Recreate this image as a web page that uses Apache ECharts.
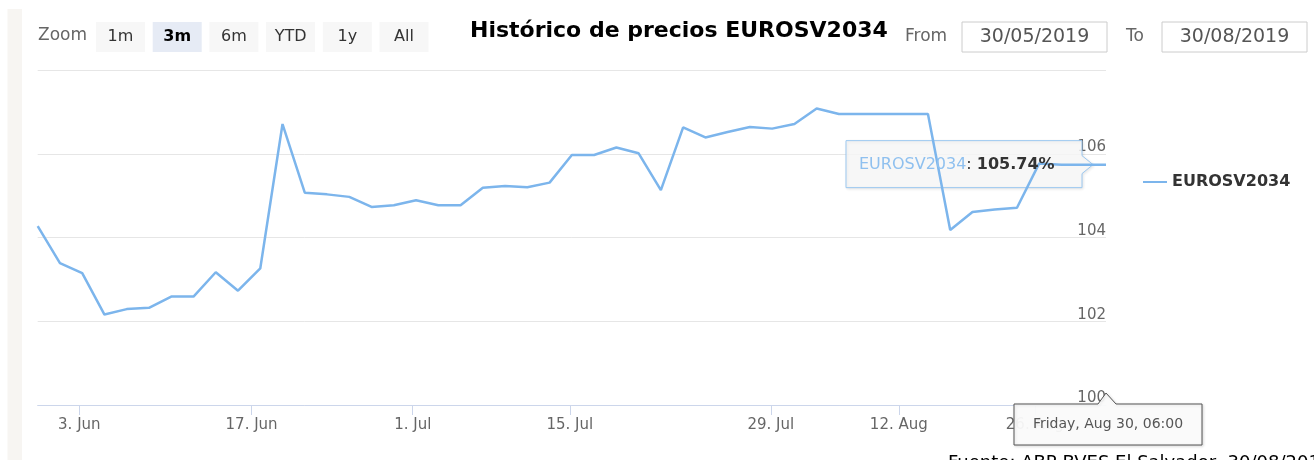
<!DOCTYPE html>
<html>
<head>
<meta charset="utf-8">
<title>Histórico de precios EUROSV2034</title>
<script src="https://cdn.jsdelivr.net/npm/echarts@6/dist/echarts.min.js"></script>
<style>
  html, body { margin: 0; padding: 0; background: #fff; }
  #chart { width: 1314px; height: 460px; }
</style>
</head>
<body>
<div id="chart"></div>
<script>
/* data (one point per trading day shown) */
const seriesName = "EUROSV2034";
const prices = [
  104.27, 103.39, 103.15, 102.16, 102.29, 102.32, 102.59, 102.59, 103.17, 102.73,
  103.26, 106.71, 105.07, 105.03, 104.97, 104.73, 104.77, 104.89, 104.77, 104.77,
  105.19, 105.23, 105.20, 105.31, 105.97, 105.97, 106.15, 106.01, 105.13, 106.63,
  106.39, 106.52, 106.64, 106.60, 106.71, 107.08, 106.95, 106.95, 106.95, 106.95,
  106.95, 104.18, 104.61, 104.67, 104.71, 105.77, 105.74, 105.74, 105.74
];
/* ordinal axis: tick dates fall between points */
const tickPos = [1.87, 9.61, 16.85, 23.91, 32.94, 38.69, 44.8];
const tickLabels = ["3. Jun", "17. Jun", "1. Jul", "15. Jul", "29. Jul", "12. Aug", "26. Aug"];
const yMin = 100, yMax = 108, yStep = 2;

const zoomButtons = ["1m", "3m", "6m", "YTD", "1y", "All"];
const selectedZoom = "3m";
const dateFrom = "30/05/2019";
const dateTo = "30/08/2019";
const hoverHeader = "Friday, Aug 30, 06:00";
const sourceText = "Fuente: ABP BVES El Salvador, 30/08/2019";

const FONT = "DejaVu Sans, Verdana, sans-serif";
const LINE = "#7cb5ec";

let myChart = echarts.init(document.getElementById("chart"));

function tickName(v) {
  let best = 0;
  tickPos.forEach(function (t, i) {
    if (Math.abs(t - v) < Math.abs(tickPos[best] - v)) best = i;
  });
  return tickLabels[best];
}

let option = {
  animation: false,
  backgroundColor: "#ffffff",
  title: {
    text: "Histórico de precios EUROSV2034",
    left: 465,
    top: 15,
    textStyle: { fontFamily: FONT, fontSize: 22, fontWeight: "bold", color: "#000" },
  },
  legend: {
    left: 1137,
    top: 169,
    itemWidth: 24,
    itemHeight: 14,
    data: [seriesName],
    itemStyle: { opacity: 0 },
    textStyle: { fontFamily: FONT, fontSize: 16, fontWeight: "bold", color: "#333", padding: [0, 0, 0, 0] },
  },
  grid: { left: 37.7, right: 208, top: 70, bottom: 55 },
  xAxis: {
    type: "value",
    min: 0,
    max: prices.length - 1,
    splitLine: { show: false },
    axisLine: { lineStyle: { color: "#ccd6eb", width: 1 } },
    axisTick: { customValues: tickPos, length: 10, lineStyle: { color: "#ccd6eb" } },
    axisLabel: {
      customValues: tickPos,
      formatter: tickName,
      color: "#666",
      fontFamily: FONT,
      fontSize: 15,
      margin: 13,
    },
  },
  yAxis: {
    type: "value",
    position: "right",
    min: yMin,
    max: yMax,
    interval: yStep,
    axisLine: { show: false },
    axisTick: { show: false },
    splitLine: { lineStyle: { color: "#e6e6e6" } },
    axisLabel: {
      inside: true,
      showMaxLabel: false,
      margin: 0,
      verticalAlign: "bottom",
      padding: [0, 0, -1, 0],
      color: "#666",
      fontFamily: FONT,
      fontSize: 15,
    },
  },
  series: [
    {
      name: seriesName,
      type: "line",
      symbol: "none",
      data: prices.map(function (v, i) { return [i, v]; }),
      lineStyle: { color: LINE, width: 2.5 },
      itemStyle: { color: LINE },
    },
  ],
};
myChart.setOption(option);

/* static page bits: left strip, range selector, date inputs, source note */
let graphics = [];
graphics.push({ type: "rect", shape: { x: 7.5, y: 9, width: 14.5, height: 451 }, style: { fill: "#f7f5f2" }, silent: true });
graphics.push({
  type: "text", left: 38, top: 27,
  style: { text: "Zoom", fill: "#666", font: "17px " + FONT },
});
zoomButtons.forEach(function (b, i) {
  let x = 96 + i * 56.7;
  let sel = b === selectedZoom;
  graphics.push({ type: "rect", shape: { x: x, y: 22, width: 49, height: 30 }, style: { fill: sel ? "#e6ebf5" : "#f7f7f7" } });
  graphics.push({
    type: "text", x: x + 24.5, y: 37,
    style: { text: b, fill: sel ? "#000" : "#333", font: (sel ? "bold " : "") + "16px " + FONT, align: "center", verticalAlign: "middle" },
  });
});
graphics.push({ type: "text", x: 905, y: 37, style: { text: "From", fill: "#666", font: "17px " + FONT, verticalAlign: "middle" } });
graphics.push({ type: "rect", shape: { x: 962, y: 22, width: 145, height: 30 }, style: { fill: "#fff", stroke: "#cccccc", lineWidth: 1 } });
graphics.push({ type: "text", x: 1034.5, y: 37, style: { text: dateFrom, fill: "#555", font: "19px " + FONT, align: "center", verticalAlign: "middle" } });
graphics.push({ type: "text", x: 1126, y: 37, style: { text: "To", fill: "#666", font: "17px " + FONT, verticalAlign: "middle" } });
graphics.push({ type: "rect", shape: { x: 1162, y: 22, width: 145, height: 30 }, style: { fill: "#fff", stroke: "#cccccc", lineWidth: 1 } });
graphics.push({ type: "text", x: 1234.5, y: 37, style: { text: dateTo, fill: "#555", font: "19px " + FONT, align: "center", verticalAlign: "middle" } });
graphics.push({ type: "text", x: 948, y: 454, style: { text: sourceText, fill: "#000", font: "18px " + FONT } });

/* split tooltip on the last point, placed from the axes;
   the box sits under the line (it shows through in the picture) */
let last = prices.length - 1;
let p = myChart.convertToPixel({ gridIndex: 0 }, [last, prices[last]]);
let base = myChart.convertToPixel({ gridIndex: 0 }, [last, yMin]);
let bx0 = p[0] - 260, bx1 = p[0] - 24, by0 = p[1] - 24, by1 = p[1] + 23;
graphics.push({
  type: "polygon", z: 1,
  shape: { points: [[bx0, by0], [bx1, by0], [bx1, p[1] - 9], [p[0] - 13, p[1]], [bx1, p[1] + 9], [bx1, by1], [bx0, by1]] },
  style: { fill: "rgba(249,249,249,0.85)", stroke: "#9cc8f0", lineWidth: 1, shadowBlur: 3, shadowColor: "rgba(0,0,0,0.1)", shadowOffsetX: 1, shadowOffsetY: 1 },
});
graphics.push({
  type: "text", z: 101, x: bx0 + 13, y: p[1],
  style: {
    text: "{n|" + seriesName + "}{s|: }{v|" + prices[last].toFixed(2) + "%}",
    verticalAlign: "middle",
    rich: {
      n: { fill: "#8fc0ef", font: "16px " + FONT },
      s: { fill: "#333", font: "16px " + FONT },
      v: { fill: "#333", font: "bold 16px " + FONT },
    },
  },
});
let hx0 = p[0] - 92, hx1 = p[0] + 96, hy0 = base[1] - 1, hy1 = base[1] + 40;
graphics.push({
  type: "polygon", z: 100,
  shape: { points: [[hx0, hy0], [p[0] - 8, hy0], [p[0], base[1] - 12], [p[0] + 10, hy0], [hx1, hy0], [hx1, hy1], [hx0, hy1]] },
  style: { fill: "rgba(252,252,252,0.94)", stroke: "#555", lineWidth: 1, shadowBlur: 3, shadowColor: "rgba(0,0,0,0.15)", shadowOffsetX: 1, shadowOffsetY: 1 },
});
graphics.push({
  type: "text", z: 101, x: (hx0 + hx1) / 2, y: (hy0 + hy1) / 2,
  style: { text: hoverHeader, fill: "#555", font: "14px " + FONT, align: "center", verticalAlign: "middle" },
});

myChart.setOption({ graphic: graphics });
</script>
</body>
</html>
